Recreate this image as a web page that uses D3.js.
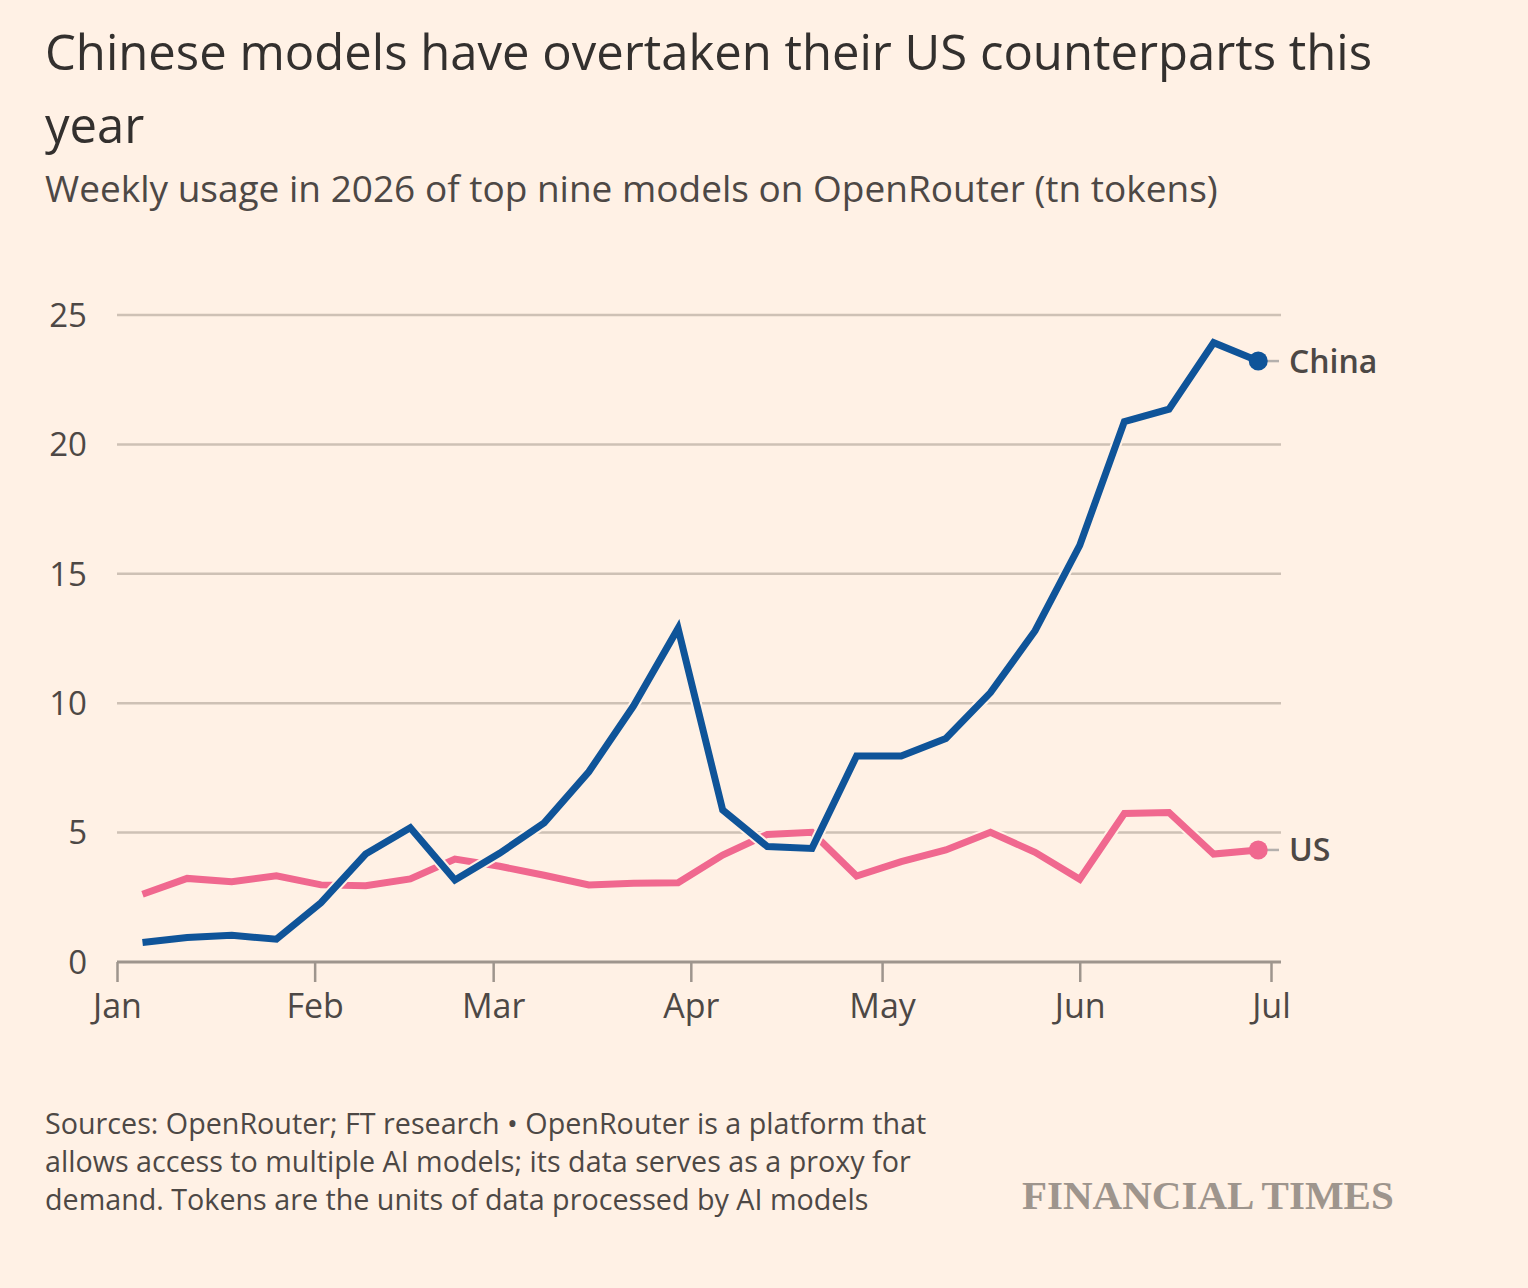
<!DOCTYPE html>
<html>
<head>
<meta charset="utf-8">
<script src="https://cdn.jsdelivr.net/npm/d3@7"></script>
<style>
  html, body { margin: 0; padding: 0; background: #fff1e5; }
  svg { display: block; font-family: "Open Sans", "Noto Sans", sans-serif; }
</style>
</head>
<body>
<svg id="chart" width="1528" height="1288"></svg>
<script>
// weekly observations (week starting Monday)
var weeks = [
    "2026-01-05", "2026-01-12", "2026-01-19", "2026-01-26", "2026-02-02", "2026-02-09",
    "2026-02-16", "2026-02-23", "2026-03-02", "2026-03-09", "2026-03-16", "2026-03-23",
    "2026-03-30", "2026-04-06", "2026-04-13", "2026-04-20", "2026-04-27", "2026-05-04",
    "2026-05-11", "2026-05-18", "2026-05-25", "2026-06-01", "2026-06-08", "2026-06-15",
    "2026-06-22", "2026-06-29"
];
// tn tokens
var chinaValues = [
    0.75, 0.95, 1.03, 0.88, 2.29, 4.17, 5.19, 3.17, 4.2, 5.38, 7.35, 9.89,
    12.89, 5.87, 4.46, 4.39, 7.96, 7.96, 8.64, 10.41, 12.8, 16.1, 20.88, 21.36,
    23.93, 23.22
];
var usValues = [
    2.62, 3.23, 3.1, 3.33, 2.98, 2.95, 3.21, 3.98, 3.7, 3.35, 2.98, 3.04,
    3.06, 4.13, 4.93, 5.01, 3.32, 3.88, 4.33, 5.01, 4.24, 3.2, 5.74, 5.78,
    4.17, 4.33
];
var seriesNames = ["US", "China"];
var seriesColors = ["#f0688f", "#0f5499"];
var yTicks = [0, 5, 10, 15, 20, 25];
var monthTicks = ["2026-01-01", "2026-02-01", "2026-03-01", "2026-04-01", "2026-05-01", "2026-06-01", "2026-07-01"];

var titleLines = ["Chinese models have overtaken their US counterparts this", "year"];
var subtitle = "Weekly usage in 2026 of top nine models on OpenRouter (tn tokens)";
var footerLines = [
    "Sources: OpenRouter; FT research \u2022 OpenRouter is a platform that",
    "allows access to multiple AI models; its data serves as a proxy for",
    "demand. Tokens are the units of data processed by AI models"
];

var parse = d3.utcParse("%Y-%m-%d");
var svg = d3.select("#chart");
var textDark = "#33302e", textMid = "#4d4845";

svg.append("rect").attr("width", 1528).attr("height", 1288).attr("fill", "#fff1e5");

// headings
svg.append("g").selectAll("text")
    .data(titleLines)
    .enter().append("text")
    .attr("x", 45)
    .attr("y", function (d, i) { return 70 + i * 73; })
    .attr("fill", textDark)
    .style("font-size", "49px")
    .text(function (d) { return d; });

svg.append("text")
    .attr("x", 45).attr("y", 202)
    .attr("fill", textMid)
    .style("font-size", "37px")
    .text(subtitle);

// scales
var x = d3.scaleUtc()
    .domain([parse(monthTicks[0]), parse(monthTicks[monthTicks.length - 1])])
    .range([117, 1271]);
var y = d3.scaleLinear().domain([0, 25]).range([962, 315]);
var plotRight = 1281;

// gridlines
svg.append("g").selectAll("line")
    .data(yTicks.filter(function (d) { return d > 0; }))
    .enter().append("line")
    .attr("x1", x.range()[0]).attr("x2", plotRight)
    .attr("y1", function (d) { return y(d); })
    .attr("y2", function (d) { return y(d); })
    .attr("stroke", "#cec1b5")
    .attr("stroke-width", 2.5);

// y tick labels
svg.append("g").selectAll("text")
    .data(yTicks)
    .enter().append("text")
    .attr("x", 87)
    .attr("y", function (d) { return y(d); })
    .attr("dy", "0.36em")
    .attr("text-anchor", "end")
    .attr("fill", textMid)
    .style("font-size", "33px")
    .text(function (d) { return d; });

// x axis
var xAxis = d3.axisBottom(x)
    .tickValues(monthTicks.map(parse))
    .tickFormat(d3.utcFormat("%b"))
    .tickSize(20)
    .tickSizeOuter(0)
    .tickPadding(12);
var gx = svg.append("g")
    .attr("transform", "translate(0," + y(0) + ")")
    .call(xAxis);
gx.select(".domain").remove();
gx.append("line")
    .attr("x1", x.range()[0]).attr("x2", plotRight)
    .attr("stroke", "#9e958d").attr("stroke-width", 3);
gx.selectAll(".tick line").attr("stroke", "#9e958d").attr("stroke-width", 2.5);
gx.selectAll(".tick text")
    .attr("fill", textMid)
    .style("font-size", "34px")
    .style("font-family", "'Open Sans', 'Noto Sans', sans-serif");

// lines
var dates = weeks.map(parse);
var series = [usValues, chinaValues];
var line = d3.line()
    .x(function (d, i) { return x(dates[i]); })
    .y(function (d) { return y(d); });

var gLines = svg.append("g");
series.forEach(function (values, k) {
    gLines.append("path")
        .datum(values)
        .attr("d", line)
        .attr("fill", "none")
        .attr("stroke", "#fff1e5")
        .attr("stroke-width", 11);
    gLines.append("path")
        .datum(values)
        .attr("d", line)
        .attr("fill", "none")
        .attr("stroke", seriesColors[k])
        .attr("stroke-width", 7);
});

// end markers and labels
series.forEach(function (values, k) {
    var last = values.length - 1;
    var cx = x(dates[last]), cy = y(values[last]);
    svg.append("line")
        .attr("x1", cx).attr("x2", 1279)
        .attr("y1", cy).attr("y2", cy)
        .attr("stroke", "#b4b0ad").attr("stroke-width", 2.5);
    svg.append("circle")
        .attr("cx", cx).attr("cy", cy).attr("r", 9.5)
        .attr("fill", seriesColors[k]);
    svg.append("text")
        .attr("x", 1289).attr("y", cy)
        .attr("dy", "0.36em")
        .attr("fill", textMid)
        .style("font-size", "32px")
        .style("font-weight", 600)
        .text(seriesNames[k]);
});

// footer
svg.append("g").selectAll("text")
    .data(footerLines)
    .enter().append("text")
    .attr("x", 45)
    .attr("y", function (d, i) { return 1134 + i * 38; })
    .attr("fill", textMid)
    .style("font-size", "28.7px")
    .text(function (d) { return d; });

svg.append("text")
    .attr("x", 1022).attr("y", 1209)
    .attr("fill", "#9e958d")
    .style("font-family", "'Liberation Serif', 'DejaVu Serif', serif")
    .style("font-size", "41px")
    .style("font-weight", 600)
    .text("FINANCIAL TIMES");
</script>
</body>
</html>
